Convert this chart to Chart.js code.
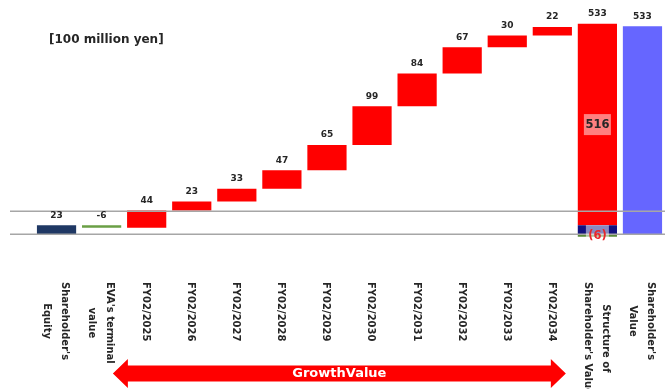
<!DOCTYPE html>
<html>
<head>
<meta charset="utf-8">
<script src="https://cdn.jsdelivr.net/npm/chart.js@4/dist/chart.umd.min.js"></script>
<style>
  html, body { margin: 0; padding: 0; background: #ffffff; }
  #wrap { width: 665px; height: 389px; position: relative; }
</style>
</head>
<body>
<div id="wrap"><canvas id="chart" width="665" height="389"></canvas></div>
<script>
// Categories along the waterfall (multi-line labels as arrays)
const categories = [
  ["Shareholder's", "Equity"],
  ["EVA's terminal", "value"],
  "FY02/2025", "FY02/2026", "FY02/2027", "FY02/2028", "FY02/2029",
  "FY02/2030", "FY02/2031", "FY02/2032", "FY02/2033", "FY02/2034",
  ["Structure of", "Shareholder's Value"],
  ["Shareholder's", "Value"]
];

// Values in units of 100 million yen
const shareholdersEquity = 23;
const evaTerminalValue = -6;
const growthValues = [44, 23, 33, 47, 65, 99, 84, 67, 30, 22];
const growthValueTotal = 516;
const shareholdersValue = 533;

// Horizontal guide lines
const guideLevels = [0, 60];

const unitLabel = "[100 million yen]";
const arrowLabel = "GrowthValue";

// ---- floating-bar data built from the values above ----
const n = categories.length;
const empty = () => new Array(n).fill(null);
const iEquity = 0, iEva = 1, iFirstGrowth = 2;
const iStructure = n - 2, iValue = n - 1;

const equityData = empty();
equityData[iEquity] = [0, shareholdersEquity];

const evaData = empty();
evaData[iEva] = [shareholdersEquity + evaTerminalValue, shareholdersEquity];

const growthData = empty();
let level = shareholdersEquity + evaTerminalValue;
growthValues.forEach((v, k) => {
  growthData[iFirstGrowth + k] = [level, level + v];
  level += v;
});

const structEquityData = empty();
structEquityData[iStructure] = [0, shareholdersEquity];
const structEvaData = empty();
structEvaData[iStructure] = [evaTerminalValue, 0];
const structGrowthData = empty();
structGrowthData[iStructure] = [shareholdersEquity, shareholdersEquity + growthValueTotal];

const valueData = empty();
valueData[iValue] = [0, shareholdersValue];

// Value labels above each column
const topLabels = [];
topLabels[iEquity] = { text: String(shareholdersEquity), top: shareholdersEquity };
topLabels[iEva] = { text: String(evaTerminalValue), top: shareholdersEquity };
growthValues.forEach((v, k) => {
  topLabels[iFirstGrowth + k] = { text: String(v), top: growthData[iFirstGrowth + k][1] };
});
topLabels[iStructure] = { text: String(shareholdersValue), top: shareholdersEquity + growthValueTotal };
topLabels[iValue] = { text: String(shareholdersValue), top: shareholdersValue };

const FONT = "'DejaVu Sans', Verdana, sans-serif";

const decorations = {
  id: 'decorations',
  afterDatasetsDraw(chart) {
    const ctx = chart.ctx;
    const x = chart.scales.x, y = chart.scales.y;
    const step = x.getPixelForValue(1) - x.getPixelForValue(0);

    // guide lines across the plot
    ctx.save();
    ctx.strokeStyle = '#a6a6a6';
    ctx.lineWidth = 1.5;
    guideLevels.forEach(v => {
      const py = Math.round(y.getPixelForValue(v)) + 0.25;
      ctx.beginPath();
      ctx.moveTo(10, py);
      ctx.lineTo(chart.width, py);
      ctx.stroke();
    });
    ctx.restore();

    // value labels above the columns
    ctx.save();
    ctx.font = `bold 9px ${FONT}`;
    ctx.fillStyle = '#262626';
    ctx.textAlign = 'center';
    ctx.textBaseline = 'middle';
    topLabels.forEach((l, i) => {
      ctx.fillText(l.text, x.getPixelForValue(i), y.getPixelForValue(l.top) - 10);
    });
    ctx.restore();

    // labels inside the structure column
    const cx = x.getPixelForValue(iStructure);
    const boxLabel = (text, midValue, w, color) => {
      const cy = y.getPixelForValue(midValue);
      ctx.save();
      ctx.fillStyle = 'rgba(255,255,255,0.5)';
      ctx.fillRect(cx - w / 2, cy - 10.5, w, 21);
      ctx.font = `bold 11.5px ${FONT}`;
      ctx.fillStyle = color;
      ctx.textAlign = 'center';
      ctx.textBaseline = 'middle';
      ctx.fillText(text, cx, cy + 0.5);
      ctx.restore();
    };
    boxLabel(String(growthValueTotal),
      shareholdersEquity + growthValueTotal / 2, 27, '#262626');
    boxLabel(`(${Math.abs(evaTerminalValue)})`, evaTerminalValue / 2, 23, '#e8262a');

    // rotated category labels
    ctx.save();
    ctx.font = `bold 10px ${FONT}`;
    ctx.fillStyle = '#262626';
    ctx.textAlign = 'center';
    ctx.textBaseline = 'middle';
    const lineH = 18.5;
    const startY = 282;
    categories.forEach((c, i) => {
      const lines = Array.isArray(c) ? c : [c];
      const maxW = Math.max(...lines.map(s => ctx.measureText(s).width));
      const px = x.getPixelForValue(i) - 1;
      lines.forEach((s, k) => {
        const lx = px + ((lines.length - 1) / 2 - k) * lineH;
        ctx.save();
        ctx.translate(lx, startY + maxW / 2);
        ctx.rotate(Math.PI / 2);
        ctx.fillText(s, 0, 0);
        ctx.restore();
      });
    });
    ctx.restore();

    // double-headed arrow spanning the growth years
    const left = x.getPixelForValue(iFirstGrowth) - 0.75 * step;
    const right = x.getPixelForValue(iFirstGrowth + growthValues.length - 1) + 0.3 * step;
    const ay = 373.5, head = 15, shaft = 8, headH = 14.5;
    ctx.save();
    ctx.fillStyle = '#ff0000';
    ctx.beginPath();
    ctx.moveTo(left, ay);
    ctx.lineTo(left + head, ay - headH);
    ctx.lineTo(left + head, ay - shaft);
    ctx.lineTo(right - head, ay - shaft);
    ctx.lineTo(right - head, ay - headH);
    ctx.lineTo(right, ay);
    ctx.lineTo(right - head, ay + headH);
    ctx.lineTo(right - head, ay + shaft);
    ctx.lineTo(left + head, ay + shaft);
    ctx.lineTo(left + head, ay + headH);
    ctx.closePath();
    ctx.fill();
    ctx.font = `bold 13px ${FONT}`;
    ctx.fillStyle = '#ffffff';
    ctx.textAlign = 'center';
    ctx.textBaseline = 'middle';
    ctx.fillText(arrowLabel, (left + right) / 2, ay + 0.5);
    ctx.restore();

    // unit caption
    ctx.save();
    ctx.font = `bold 12px ${FONT}`;
    ctx.fillStyle = '#262626';
    ctx.textAlign = 'left';
    ctx.textBaseline = 'middle';
    ctx.fillText(unitLabel, 49, 40);
    ctx.restore();
  }
};

const bar = (label, data, color) => ({
  label, data, backgroundColor: color, borderWidth: 0,
  grouped: false, categoryPercentage: 1, barPercentage: 0.87
});

new Chart(document.getElementById('chart'), {
  type: 'bar',
  data: {
    labels: categories,
    datasets: [
      bar("Shareholder's Equity", equityData, '#1f3864'),
      bar("EVA's terminal value", evaData, '#6a9f45'),
      bar('Growth value', growthData, '#ff0000'),
      bar('Structure: equity', structEquityData, '#12127f'),
      bar('Structure: EVA terminal', structEvaData, '#5a8a3a'),
      bar('Structure: growth value', structGrowthData, '#ff0000'),
      bar("Shareholder's Value", valueData, '#6666ff')
    ]
  },
  options: {
    responsive: false,
    animation: false,
    events: [],
    layout: { padding: { left: 34, right: 0, top: 0, bottom: 0 } },
    plugins: { legend: { display: false }, tooltip: { enabled: false } },
    scales: {
      x: { display: false, offset: true },
      y: { display: false, min: -396, max: 600 }
    }
  },
  plugins: [decorations]
});
</script>
</body>
</html>
